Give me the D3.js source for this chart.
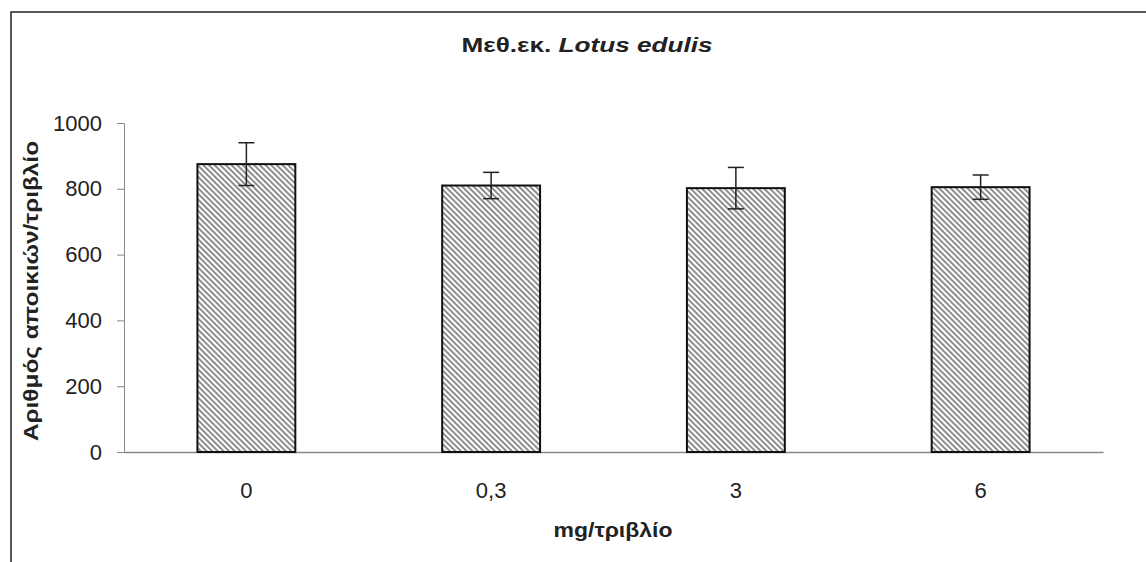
<!DOCTYPE html>
<html>
<head>
<meta charset="utf-8">
<script src="https://cdn.jsdelivr.net/npm/d3@7"></script>
<style>
  html, body { margin: 0; padding: 0; background: #fff; }
  svg { display: block; font-family: Arial, "Liberation Sans", sans-serif; }
</style>
</head>
<body>
<svg id="chart" width="1146" height="562"></svg>
<script>
// Colony counts per plate for each dose of the Lotus edulis extract
const doses = ["0", "0,3", "3", "6"];
const colonies = [875, 810, 802, 805];
const errors = [65, 40, 63, 37];
const yTicks = [0, 200, 400, 600, 800, 1000];

const svg = d3.select("#chart");
const W = 1146, H = 562;
const m = { left: 124, right: 43, top: 123, bottom: 110 };

// outer frame (top and left edges)
svg.append("path")
  .attr("d", `M11,${H} L11,12 L${W},12`)
  .attr("fill", "none").attr("stroke", "#222").attr("stroke-width", 1.5);

// diagonal hatch fill for the bars
const defs = svg.append("defs");
const pat = defs.append("pattern")
  .attr("id", "hatch").attr("patternUnits", "userSpaceOnUse")
  .attr("width", 4).attr("height", 4)
  .attr("patternTransform", "rotate(45)");
pat.append("rect").attr("width", 4).attr("height", 4).attr("fill", "#fff");
pat.append("line").attr("x1", 0).attr("y1", 1).attr("x2", 4).attr("y2", 1)
  .attr("stroke", "#7a7a7a").attr("stroke-width", 1.7);

const x = d3.scaleBand().domain(doses)
  .range([m.left, W - m.right]).paddingInner(0.6).paddingOuter(0.3);
const y = d3.scaleLinear().domain([0, 1000]).range([H - m.bottom, m.top]);

// y axis
const yAxis = svg.append("g").attr("transform", `translate(${m.left},0)`)
  .call(d3.axisLeft(y).tickValues(yTicks).tickSize(7).tickPadding(15).tickFormat(d3.format("d")));
yAxis.select(".domain").attr("stroke", "#888");
yAxis.selectAll(".tick line").attr("stroke", "#888");
yAxis.selectAll("text").attr("font-size", 22).attr("fill", "#222");

// x axis
const xAxis = svg.append("g").attr("transform", `translate(0,${y(0)})`)
  .call(d3.axisBottom(x).tickSize(0).tickPadding(30).tickSizeOuter(0));
xAxis.select(".domain").attr("stroke", "#888").attr("stroke-width", 1.5);
xAxis.selectAll("text").attr("font-size", 22).attr("fill", "#222");

// bars
svg.append("g").selectAll("rect").data(doses).join("rect")
  .attr("x", d => x(d))
  .attr("y", (d, i) => y(colonies[i]))
  .attr("width", x.bandwidth())
  .attr("height", (d, i) => y(0) - y(colonies[i]))
  .attr("fill", "url(#hatch)")
  .attr("stroke", "#111").attr("stroke-width", 2);

// error bars
const eb = svg.append("g").attr("stroke", "#222").attr("stroke-width", 1.5);
doses.forEach((d, i) => {
  const cx = x(d) + x.bandwidth() / 2;
  const hi = y(colonies[i] + errors[i]), lo = y(colonies[i] - errors[i]);
  eb.append("line").attr("x1", cx).attr("x2", cx).attr("y1", hi).attr("y2", lo);
  eb.append("line").attr("x1", cx - 8).attr("x2", cx + 8).attr("y1", hi).attr("y2", hi);
  eb.append("line").attr("x1", cx - 8).attr("x2", cx + 8).attr("y1", lo).attr("y2", lo);
});

// title
const title = svg.append("text")
  .attr("x", 587).attr("y", 52)
  .attr("text-anchor", "middle").attr("font-size", 21).attr("font-weight", "bold").attr("fill", "#222")
  .attr("textLength", 251).attr("lengthAdjust", "spacingAndGlyphs");
title.append("tspan").text("Μεθ.εκ. ");
title.append("tspan").attr("font-style", "italic").text("Lotus edulis");

// axis titles
svg.append("text")
  .attr("x", 613).attr("y", 537)
  .attr("text-anchor", "middle").attr("font-size", 20).attr("font-weight", "bold").attr("fill", "#222")
  .attr("textLength", 119).attr("lengthAdjust", "spacingAndGlyphs")
  .text("mg/τριβλίο");

svg.append("text")
  .attr("transform", `translate(38,291) rotate(-90)`)
  .attr("text-anchor", "middle").attr("font-size", 20).attr("font-weight", "bold").attr("fill", "#222")
  .attr("textLength", 300).attr("lengthAdjust", "spacingAndGlyphs")
  .text("Αριθμός αποικιών/τριβλίο");
</script>
</body>
</html>
